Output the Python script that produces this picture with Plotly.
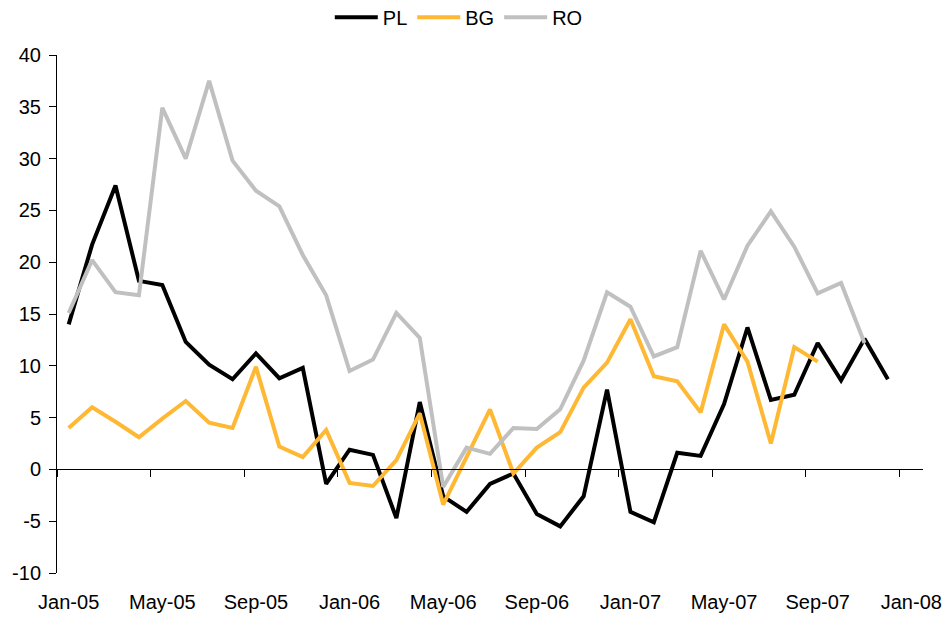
import plotly.graph_objects as go

# monthly series, Jan-05 onwards (index 0 = Jan-05)
pl = [14.0, 21.7, 27.4, 18.2, 17.8, 12.3, 10.1, 8.7, 11.2, 8.8, 9.8, -1.4,
      1.9, 1.4, -4.7, 6.5, -2.6, -4.1, -1.4, -0.4, -4.3, -5.5, -2.6, 7.7,
      -4.1, -5.1, 1.6, 1.3, 6.3, 13.7, 6.7, 7.2, 12.2, 8.6, 12.6, 8.7]
bg = [4.0, 6.0, 4.6, 3.1, 4.9, 6.6, 4.5, 4.0, 9.9, 2.2, 1.2, 3.8,
      -1.3, -1.6, 0.9, 5.4, -3.4, 1.2, 5.8, -0.4, 2.1, 3.6, 7.9, 10.3,
      14.5, 9.0, 8.5, 5.5, 14.0, 10.4, 2.5, 11.8, 10.4]
ro = [15.1, 20.2, 17.1, 16.8, 34.9, 30.0, 37.5, 29.8, 26.9, 25.4, 20.7, 16.8,
      9.5, 10.6, 15.1, 12.7, -1.7, 2.1, 1.5, 4.0, 3.9, 5.8, 10.5, 17.1,
      15.7, 10.9, 11.8, 21.1, 16.4, 21.6, 24.9, 21.5, 17.0, 18.0, 12.2]

tick_pos = [0, 4, 8, 12, 16, 20, 24, 28, 32, 36]
tick_labels = ["Jan-05", "May-05", "Sep-05", "Jan-06", "May-06",
               "Sep-06", "Jan-07", "May-07", "Sep-07", "Jan-08"]
y_ticks = [-10, -5, 0, 5, 10, 15, 20, 25, 30, 35, 40]
y_labels = ["-10", "-5", "0", "5", "10", "15", "20", "25", "30", "35", "40"]

FONT = "Liberation Sans, Arial, sans-serif"

fig = go.Figure()
fig.add_trace(go.Scatter(x=list(range(len(pl))), y=pl, mode="lines", name="PL",
                         line=dict(color="#000000", width=4)))
fig.add_trace(go.Scatter(x=list(range(len(bg))), y=bg, mode="lines", name="BG",
                         line=dict(color="#FFB833", width=4)))
fig.add_trace(go.Scatter(x=list(range(len(ro))), y=ro, mode="lines", name="RO",
                         line=dict(color="#C0C0C0", width=4)))
# empty trace so the axis at zero gets drawn
fig.add_trace(go.Scatter(x=[], y=[], xaxis="x2", showlegend=False, hoverinfo="skip"))

x_range = [-0.5, 36.5]
y_range = [-10, 40]

# page body has an 8px margin, margins below allow for it
fig.update_layout(
    width=951, height=621,
    margin=dict(l=49, r=36, t=47, b=56, autoexpand=False),
    paper_bgcolor="white", plot_bgcolor="white",
    font=dict(family=FONT, size=20, color="black"),
    showlegend=True,
    legend=dict(orientation="h", x=0.315, xanchor="left", y=1.073, yanchor="middle",
                font=dict(size=20), itemwidth=43, tracegroupgap=0),
    xaxis=dict(range=x_range, tickmode="array", tickvals=tick_pos, ticktext=tick_labels,
               ticks="", showline=False, showgrid=False, zeroline=False,
               ticklabelstandoff=15, automargin=False),
    xaxis2=dict(range=x_range, overlaying="x", anchor="free",
                position=(0 - y_range[0]) / (y_range[1] - y_range[0]),
                tickmode="array", tickvals=[p - 0.5 for p in tick_pos],
                ticks="outside", ticklen=7, tickcolor="black", showticklabels=False,
                showline=True, linecolor="black", linewidth=1,
                showgrid=False, zeroline=False, automargin=False),
    yaxis=dict(range=y_range, tickmode="array", tickvals=y_ticks, ticktext=y_labels,
               ticks="outside", ticklen=7, ticklabelstandoff=4,
               tickcolor="black", showline=True, linecolor="black", linewidth=1,
               showgrid=False, zeroline=False, automargin=False),
)

fig.write_html("out.html")
